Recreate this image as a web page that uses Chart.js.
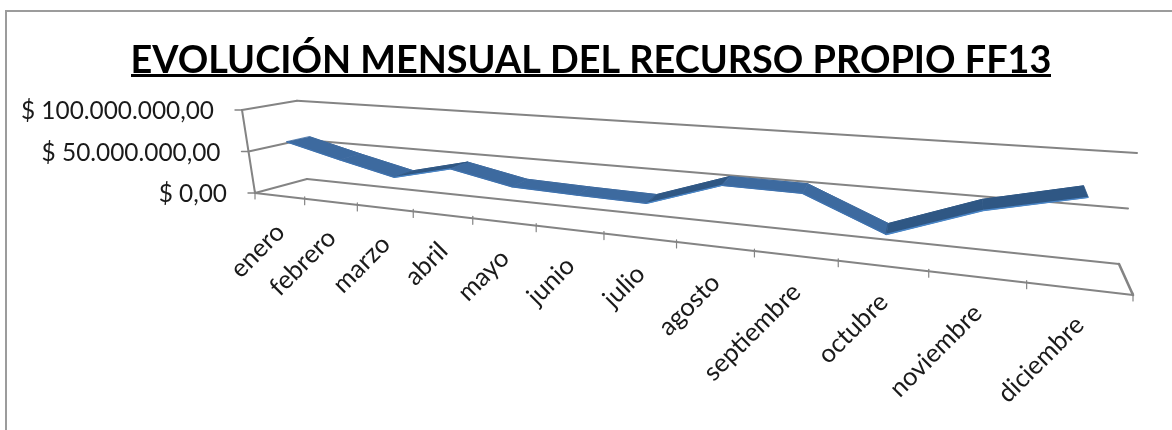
<!DOCTYPE html>
<html>
<head>
<meta charset="utf-8">
<style>
html,body{margin:0;padding:0;background:#fff;overflow:hidden}
#wrap{position:relative;width:1172px;height:430px}
#frame{position:absolute;left:5px;top:10px;right:-5px;bottom:-5px;border:2px solid #9c9c9c;pointer-events:none}
canvas{display:block}
</style>
<script src="https://cdn.jsdelivr.net/npm/chart.js@4"></script>
</head>
<body>
<div id="wrap"><canvas id="c" width="1172" height="430"></canvas><div id="frame"></div></div>
<script>
const titleText = 'EVOLUCIÓN MENSUAL DEL RECURSO PROPIO FF13';
const categories = ['enero','febrero','marzo','abril','mayo','junio','julio','agosto','septiembre','octubre','noviembre','diciembre'];
const recursoPropio = [60500000,44700000,30200000,46200000,32800000,30800000,29500000,55200000,54600000,22900000,53800000,73700000];

// Page position of the eight corners of the 3D box (value low/high, front/back, left/right)
const box = {
  leftLowFront:[255,193], leftHighFront:[242,110], leftLowBack:[307,179], leftHighBack:[297,100.7],
  rightLowFront:[1133,295], rightHighFront:[1152,179], rightLowBack:[1119,264], rightHighBack:[1137,153]
};
const PERSPECTIVE = 1.516, RIBBON_FRONT = 0.28, RIBBON_BACK = 0.72;
const GRID = '#848484', FALLING = '#3d6a9f', RISING = '#2f5784', EDGE = '#4a86c8', EDGE_SOFT = '#3f72ae';

const mix = (a,b,k) => [a[0]+(b[0]-a[0])*k, a[1]+(b[1]-a[1])*k];
function project(uFrac, v, d){
  const t = uFrac/(uFrac+(1-uFrac)*PERSPECTIVE);
  const L = mix(mix(box.leftLowFront,box.leftHighFront,v), mix(box.leftLowBack,box.leftHighBack,v), d);
  const R = mix(mix(box.rightLowFront,box.rightHighFront,v), mix(box.rightLowBack,box.rightHighBack,v), d);
  return mix(L,R,t);
}
const money = v => '$ ' + v.toFixed(2).replace('.',',').replace(/\B(?=(\d{3})+(?!\d))/g,'.');

const perspective = {
  id:'perspective',
  afterDatasetsUpdate(chart){
    const a = chart.chartArea, xs = chart.scales.x, ys = chart.scales.y;
    const uOf = px => (px-a.left)/a.width, vOf = py => (a.bottom-py)/a.height;
    chart.data.datasets.forEach((ds,di)=>{
      chart.getDatasetMeta(di).data.forEach(pt=>{
        const p = project(uOf(pt.x), vOf(pt.y), ds.depth);
        pt.x = p[0]; pt.y = p[1];
      });
    });
    xs.getLabelItems(a).forEach((it,i)=>{
      const p = project((i+0.5)/categories.length,0,0);
      it.textOffset = 0;
      Object.assign(it.options,{translation:[p[0]+1,p[1]+32],rotation:-Math.PI/4,textAlign:'right',textBaseline:'middle'});
    });
    ys.getLabelItems(a).forEach(it=>{
      const v = vOf(it.options.translation[1]);
      const p = project(0,v,0);
      it.textOffset = 0;
      Object.assign(it.options,{translation:[p[0]-28,p[1]+1.5],textAlign:'right',textBaseline:'middle'});
    });
  },
  beforeDatasetsDraw(chart){
    const c = chart.ctx, a = chart.chartArea, ys = chart.scales.y;
    const vOf = val => (a.bottom-ys.getPixelForValue(val))/a.height;
    const line = (p,q,w) => { c.lineWidth=w||2; c.beginPath(); c.moveTo(p[0],p[1]); c.lineTo(q[0],q[1]); c.stroke(); };
    c.save();
    c.strokeStyle = GRID; c.lineCap='round';
    // walls: one polyline per value tick
    ys.ticks.forEach(t=>{
      const v = vOf(t.value);
      const f = project(0,v,0), b = project(0,v,1), r = project(1,v,1);
      line([f[0]-7,f[1]],f,1.4); line(f,b); line(b,r);
    });
    // left edge, floor front and right edge
    line(project(0,0,0),project(0,1,0));
    line(project(0,0,0),project(1,0,0),2.2);
    line(project(1,0,1),project(1,0,0),2.6);
    // category tick marks along the floor front
    for(let i=0;i<=categories.length;i++){
      const p = project(i/categories.length,0,0);
      line([p[0],p[1]-2],[p[0],p[1]+6],1.2);
    }
    // ribbon faces between the front and back edge lines
    const front = chart.getDatasetMeta(0).data, back = chart.getDatasetMeta(1).data;
    c.lineWidth = 0.8; c.lineJoin = 'round';
    for(let i=0;i<front.length-1;i++){
      c.fillStyle = c.strokeStyle = recursoPropio[i+1]>recursoPropio[i] ? RISING : FALLING;
      c.beginPath();
      c.moveTo(front[i].x,front[i].y); c.lineTo(front[i+1].x,front[i+1].y);
      c.lineTo(back[i+1].x,back[i+1].y); c.lineTo(back[i].x,back[i].y);
      c.closePath(); c.fill(); c.stroke();
    }
    c.restore();
  },
  afterDraw(chart){
    // title underline
    const c = chart.ctx;
    c.save(); c.fillStyle='#000'; c.fillRect(131,74,920,3); c.restore();
  }
};

new Chart(document.getElementById('c'),{
  type:'line',
  data:{labels:categories,datasets:[
    {label:'Recurso propio',data:recursoPropio,depth:RIBBON_FRONT,borderColor:EDGE,borderWidth:1.4,pointRadius:0,tension:0,clip:false,fill:false,
     segment:{borderColor:s=>s.p1.parsed.y>s.p0.parsed.y?EDGE:EDGE_SOFT}},
    {label:'Recurso propio (fondo)',data:recursoPropio,depth:RIBBON_BACK,borderColor:FALLING,borderWidth:1,pointRadius:0,tension:0,clip:false,fill:false,
     segment:{borderColor:s=>s.p1.parsed.y>s.p0.parsed.y?RISING:FALLING}}
  ]},
  options:{
    responsive:false,animation:false,
    layout:{padding:{left:10}},
    plugins:{
      legend:{display:false},tooltip:{enabled:false},
      title:{display:true,text:titleText,color:'#000',font:{family:'Lato',size:37.8,weight:'bold',lineHeight:1.2},padding:{top:38,bottom:10}}
    },
    scales:{
      x:{offset:true,grid:{display:false},border:{display:false},
         ticks:{mirror:true,autoSkip:false,maxRotation:45,minRotation:45,color:'#1a1a1a',font:{family:'Lato',size:25.5}}},
      y:{min:0,max:100000000,grid:{display:false},border:{display:false},
         ticks:{mirror:true,stepSize:50000000,color:'#1a1a1a',font:{family:'Lato',size:24.4},callback:money}}
    }
  },
  plugins:[perspective]
});
</script>
</body>
</html>
